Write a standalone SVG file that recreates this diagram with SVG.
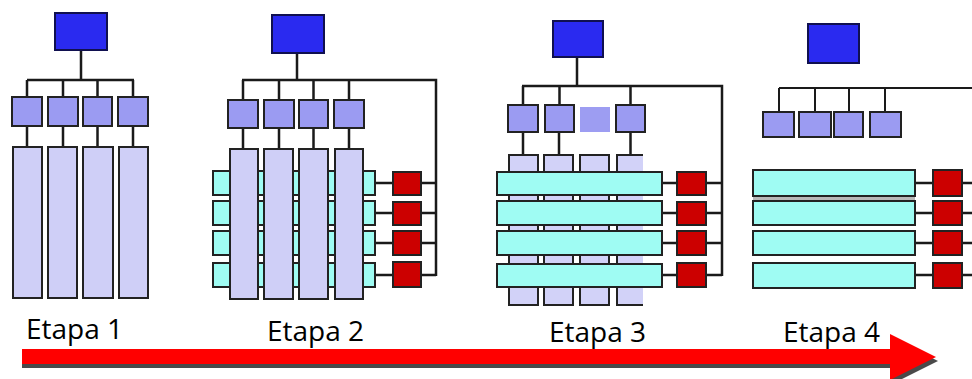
<svg xmlns="http://www.w3.org/2000/svg" width="972" height="379" viewBox="0 0 972 379">
<style>
.top{fill:#2a2af0;stroke:#101050;stroke-width:2}
.mid{fill:#9b9bf2;stroke:#222;stroke-width:2}
.mid2{fill:#9d9df2;stroke:none}
.bar{fill:#cfcff7;stroke:#222;stroke-width:2}
.bar3{fill:#d2d2f8;stroke:#222;stroke-width:2}
.cy{fill:#9ffcf3;stroke:#222;stroke-width:2}
.red{fill:#cc0000;stroke:#222;stroke-width:2}
.wire{stroke:#1a1a1a;stroke-width:2.5;fill:none}
.lbl{font-family:"Open Sans","Noto Sans",sans-serif;font-size:28px;fill:#000}
</style>
<rect width="972" height="379" fill="#fff"/>

<g id="connectors">
  <path class="wire" d="M81 50V80M27 80H134M27 80V97M63 80V97M97.5 80V97M133 80V97M27 126V147M63 126V147M97.5 126V147M133 126V147"/>
  <path class="wire" d="M297 53V80M242 80H436V276M243 80V100M279 80V100M313.5 80V100M349 80V100M243 128V149M279 128V149M313.5 128V149M349 128V149"/>
  <path class="wire" d="M375 183H393M375 213H393M375 243H393M375 275H393M421 183H436M421 213H436M421 243H436M421 275H436"/>
  <path class="wire" d="M577 57V86M522 86H722V276M523 86V105M559.5 86V105M630.5 86V105M523 132V155M559 132V155M630.5 132V155"/>
  <path class="wire" d="M662 183H677M662 213H677M662 243H677M662 275H677M706 183H722M706 213H722M706 243H722M706 275H722"/>
  <path class="wire" d="M779 88H972M779 88V112M815 88V112M849 88V112M885 88V112" style="stroke-width:2"/>
  <path class="wire" d="M915 183H933M915 213H933M915 243H933M915 275H933M962 183H972M962 213H972M962 243H972M962 275H972"/>
</g>

<g id="etapa1">
  <rect id="s1-top" class="top" x="55" y="13" width="52" height="37"/>
  <g id="s1-mid">
    <rect class="mid" x="12" y="97" width="30" height="29"/>
    <rect class="mid" x="48" y="97" width="30" height="29"/>
    <rect class="mid" x="83" y="97" width="29" height="29"/>
    <rect class="mid" x="118" y="97" width="30" height="29"/>
  </g>
  <g id="s1-bars">
    <rect class="bar" x="13" y="147" width="29" height="151"/>
    <rect class="bar" x="48" y="147" width="29" height="151"/>
    <rect class="bar" x="83" y="147" width="30" height="151"/>
    <rect class="bar" x="119" y="147" width="29" height="151"/>
  </g>
</g>

<g id="etapa2">
  <rect id="s2-top" class="top" x="272" y="15" width="52" height="38"/>
  <g id="s2-mid">
    <rect class="mid" x="228" y="100" width="30" height="28"/>
    <rect class="mid" x="264" y="100" width="30" height="28"/>
    <rect class="mid" x="299" y="100" width="29" height="28"/>
    <rect class="mid" x="334" y="100" width="30" height="28"/>
  </g>
  <g id="s2-cyan">
    <rect class="cy" x="213" y="171" width="24" height="24"/><rect class="cy" x="252" y="171" width="18" height="24"/><rect class="cy" x="287" y="171" width="18" height="24"/><rect class="cy" x="322" y="171" width="18" height="24"/><rect class="cy" x="356" y="171" width="19" height="24"/>
    <rect class="cy" x="213" y="201" width="24" height="24"/><rect class="cy" x="252" y="201" width="18" height="24"/><rect class="cy" x="287" y="201" width="18" height="24"/><rect class="cy" x="322" y="201" width="18" height="24"/><rect class="cy" x="356" y="201" width="19" height="24"/>
    <rect class="cy" x="213" y="231" width="24" height="24"/><rect class="cy" x="252" y="231" width="18" height="24"/><rect class="cy" x="287" y="231" width="18" height="24"/><rect class="cy" x="322" y="231" width="18" height="24"/><rect class="cy" x="356" y="231" width="19" height="24"/>
    <rect class="cy" x="213" y="263" width="24" height="24"/><rect class="cy" x="252" y="263" width="18" height="24"/><rect class="cy" x="287" y="263" width="18" height="24"/><rect class="cy" x="322" y="263" width="18" height="24"/><rect class="cy" x="356" y="263" width="19" height="24"/>
  </g>
  <g id="s2-bars">
    <rect class="bar" x="230" y="149" width="28" height="150"/>
    <rect class="bar" x="264" y="149" width="29" height="150"/>
    <rect class="bar" x="299" y="149" width="29" height="150"/>
    <rect class="bar" x="335" y="149" width="28" height="150"/>
  </g>
  <g id="s2-red">
    <rect class="red" x="393" y="172" width="28" height="23"/>
    <rect class="red" x="393" y="202" width="28" height="23"/>
    <rect class="red" x="393" y="231" width="28" height="24"/>
    <rect class="red" x="393" y="262" width="28" height="25"/>
  </g>
</g>

<g id="etapa3">
  <rect id="s3-top" class="top" x="553" y="21" width="50" height="36"/>
  <g id="s3-mid">
    <rect class="mid" x="508" y="105" width="30" height="27"/>
    <rect class="mid" x="545" y="105" width="29" height="27"/>
    <rect class="mid2" x="580" y="107" width="30" height="25"/>
    <rect class="mid" x="616" y="105" width="29" height="27"/>
  </g>
  <g id="s3-bars">
    <rect class="bar3" x="509" y="155" width="29" height="150"/>
    <rect class="bar3" x="544" y="155" width="29" height="150"/>
    <rect class="bar3" x="580" y="155" width="29" height="150"/>
    <rect x="617" y="155" width="26" height="150" fill="#d2d2f8"/>
    <path d="M643 155H617V305H643" fill="none" stroke="#222" stroke-width="2"/>
  </g>
  <g id="s3-cyan">
    <rect class="cy" x="497" y="172" width="165" height="23"/>
    <rect class="cy" x="497" y="201" width="165" height="24"/>
    <rect class="cy" x="497" y="231" width="165" height="24"/>
    <rect class="cy" x="497" y="264" width="165" height="23"/>
  </g>
  <g id="s3-red">
    <rect class="red" x="677" y="172" width="29" height="23"/>
    <rect class="red" x="677" y="202" width="29" height="23"/>
    <rect class="red" x="677" y="231" width="29" height="24"/>
    <rect class="red" x="677" y="263" width="29" height="24"/>
  </g>
</g>

<g id="etapa4">
  <rect id="s4-top" class="top" x="808" y="24" width="51" height="39"/>
  <g id="s4-mid">
    <rect class="mid" x="763" y="112" width="31" height="25"/>
    <rect class="mid" x="799" y="112" width="32" height="25"/>
    <rect class="mid" x="834" y="112" width="29" height="25"/>
    <rect class="mid" x="870" y="112" width="31" height="25"/>
  </g>
  <rect x="753" y="196" width="162" height="6" fill="#b8b8b8"/>
  <g id="s4-cyan">
    <rect class="cy" x="753" y="170" width="162" height="26"/>
    <rect class="cy" x="753" y="201" width="162" height="24"/>
    <rect class="cy" x="753" y="231" width="162" height="24"/>
    <rect class="cy" x="753" y="263" width="162" height="25"/>
  </g>
  <g id="s4-red">
    <rect class="red" x="933" y="170" width="29" height="26"/>
    <rect class="red" x="933" y="201" width="29" height="24"/>
    <rect class="red" x="933" y="231" width="29" height="24"/>
    <rect class="red" x="933" y="263" width="29" height="25"/>
  </g>
</g>

<g id="timeline">
  <polygon points="22,353 892,353 892,338 938,361 892,384 892,368 22,368" fill="#4a4a4a"/>
  <polygon points="22,349 890,349 890,334 936,357 890,380 890,364 22,364" fill="#ff0000"/>
  <text class="lbl" x="26" y="339">Etapa 1</text>
  <text class="lbl" x="267" y="341">Etapa 2</text>
  <text class="lbl" x="549" y="342">Etapa 3</text>
  <text class="lbl" x="783" y="342">Etapa 4</text>
</g>
</svg>
